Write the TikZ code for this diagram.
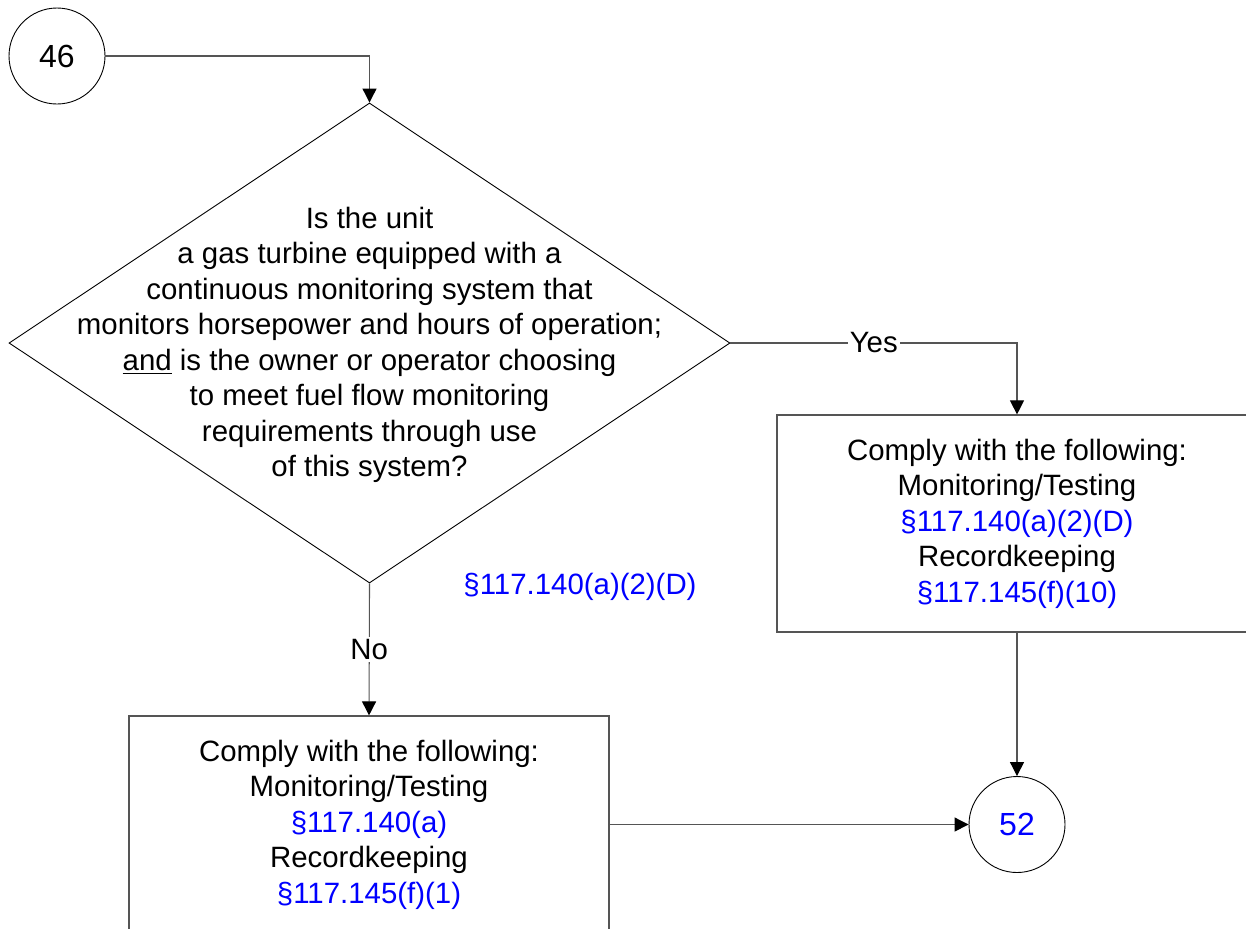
\documentclass[tikz,border=0pt]{standalone}
\usepackage{fontspec}
\setmainfont{Liberation Sans}
\usetikzlibrary{shapes.geometric,arrows.meta}
\definecolor{refblue}{RGB}{0,0,255}
\definecolor{linegray}{RGB}{85,85,85}
\newcommand{\refsec}[1]{\textcolor{refblue}{#1}}

\begin{document}
\begin{tikzpicture}[x=0.5pt,y=-0.5pt,
  every node/.style={font=\fontsize{14.7}{17.75}\selectfont},
  connector/.style={draw=linegray,line width=0.55pt,-{Triangle[length=7pt,width=7pt,color=black]}},
  pagecircle/.style={circle,draw=black,line width=0.45pt,minimum size=48pt,inner sep=0pt,font=\fontsize{16}{19}\selectfont},
  decision/.style={diamond,draw=black,line width=0.45pt,minimum width=360.5pt,minimum height=240pt,inner sep=0pt},
  actionbox/.style={rectangle,draw=linegray,line width=0.6pt,minimum width=240pt,minimum height=108.5pt,align=center},
  edgelabel/.style={fill=white,inner sep=1pt}]

\useasboundingbox (0,0) rectangle (1246,928);

\node[pagecircle] (c46) at (57,56) {46};
\node[decision] (q) at (369.5,343) {};
\node[align=center] (qtext) at (369.5,345) {Is the unit\\
a gas turbine equipped with a\\
continuous monitoring system that\\
monitors horsepower and hours of operation;\\
\underline{and} is the owner or operator choosing\\
to meet fuel flow monitoring\\
requirements through use\\
of this system?};
\node[text=refblue] (qref) at (580,587) {§117.140(a)(2)(D)};

\node[actionbox] (yesbox) at (1017,523.5) {Comply with the following:\\
Monitoring/Testing\\
\refsec{§117.140(a)(2)(D)}\\
Recordkeeping\\
\refsec{§117.145(f)(10)}};

\node[actionbox] (nobox) at (369,824.5) {Comply with the following:\\
Monitoring/Testing\\
\refsec{§117.140(a)}\\
Recordkeeping\\
\refsec{§117.145(f)(1)}};

\node[pagecircle,text=refblue] (c52) at (1017,824.5) {52};

\draw[connector] (c46.east) -| (q.north);
\draw[connector] (q.east) -| node[pos=0.25,edgelabel] (yes) {Yes} (yesbox.north);
\draw[connector] (q.south) -- node[pos=0.5,edgelabel] (no) {No} (nobox.north);
\draw[connector] (yesbox.south) -- (c52.north);
\draw[connector] (nobox.east) -- (c52.west);
\end{tikzpicture}
\end{document}
